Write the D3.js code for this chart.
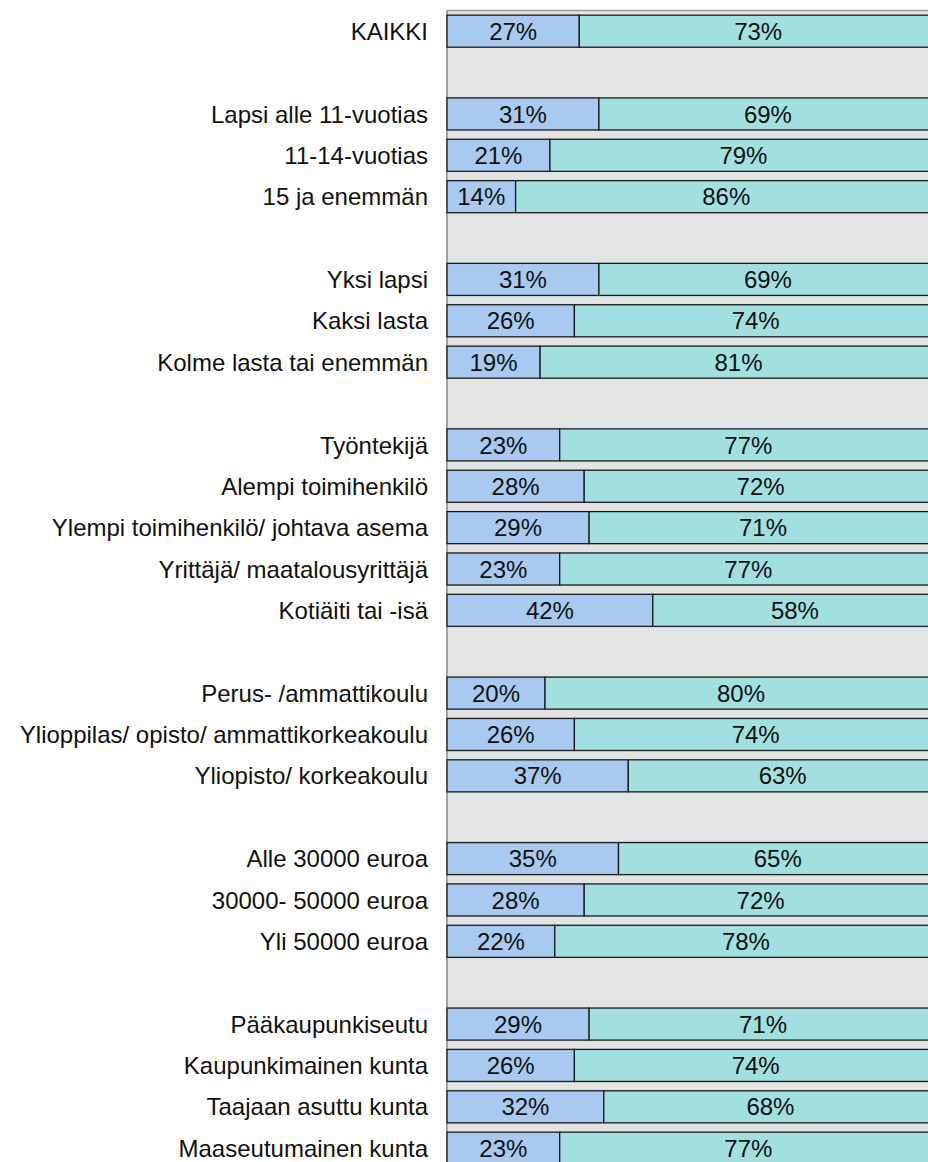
<!DOCTYPE html>
<html>
<head>
<meta charset="utf-8">
<script src="https://cdn.jsdelivr.net/npm/d3@7"></script>
<style>
  body { margin: 0; background: #fff; }
  svg { display: block; }
</style>
</head>
<body>
<div id="chart"></div>
<script>
// rows, blank strings are the empty spacer rows
var categories = [
  'KAIKKI', '',
  'Lapsi alle 11-vuotias', '11-14-vuotias', '15 ja enemmän', '',
  'Yksi lapsi', 'Kaksi lasta', 'Kolme lasta tai enemmän', '',
  'Työntekijä', 'Alempi toimihenkilö', 'Ylempi toimihenkilö/ johtava asema',
  'Yrittäjä/ maatalousyrittäjä', 'Kotiäiti tai -isä', '',
  'Perus- /ammattikoulu', 'Ylioppilas/ opisto/ ammattikorkeakoulu', 'Yliopisto/ korkeakoulu', '',
  'Alle 30000 euroa', '30000- 50000 euroa', 'Yli 50000 euroa', '',
  'Pääkaupunkiseutu', 'Kaupunkimainen kunta', 'Taajaan asuttu kunta', 'Maaseutumainen kunta'
]
var first = [27, null, 31, 21, 14, null, 31, 26, 19, null, 23, 28, 29, 23, 42, null,
  20, 26, 37, null, 35, 28, 22, null, 29, 26, 32, 23]
var second = [73, null, 69, 79, 86, null, 69, 74, 81, null, 77, 72, 71, 77, 58, null,
  80, 74, 63, null, 65, 72, 78, null, 71, 74, 68, 77]

var w = 928
var h = 1162
var plotLeft = 447
var plotTop = 10.5
var step = 41.37
var font = 'Liberation Sans, Arial, sans-serif'

var svg = d3.select('#chart')
  .append('svg')
  .attr('width', w)
  .attr('height', h)

var x = d3.scaleLinear().domain([0, 100]).range([plotLeft, plotLeft + 490])
var y = d3.scaleBand()
  .domain(d3.range(categories.length))
  .range([plotTop, plotTop + step * categories.length])
  .paddingInner(0.225)
  .paddingOuter(0.1125)

// plot background
svg.append('rect')
  .attr('x', plotLeft)
  .attr('y', plotTop)
  .attr('width', w - plotLeft + 20)
  .attr('height', h)
  .attr('fill', '#e3e3e3')

svg.append('line')
  .attr('x1', plotLeft).attr('x2', w)
  .attr('y1', plotTop).attr('y2', plotTop)
  .attr('stroke', '#9a9a9a')
  .attr('stroke-width', 1.5)

svg.append('line')
  .attr('x1', plotLeft).attr('x2', plotLeft)
  .attr('y1', plotTop).attr('y2', h)
  .attr('stroke', '#8a8a8a')
  .attr('stroke-width', 1.5)

var rows = d3.range(categories.length).filter(function (i) { return first[i] != null })

var g = svg.selectAll('g.row')
  .data(rows)
  .enter()
  .append('g')
  .attr('class', 'row')

g.append('rect')
  .attr('x', function (i) { return x(0) })
  .attr('y', function (i) { return y(i) })
  .attr('width', function (i) { return x(first[i]) - x(0) })
  .attr('height', y.bandwidth())
  .attr('fill', '#a8c9f0')
  .attr('stroke', '#1a1a1a')
  .attr('stroke-width', 1.3)

g.append('rect')
  .attr('x', function (i) { return x(first[i]) })
  .attr('y', function (i) { return y(i) })
  .attr('width', function (i) { return x(first[i] + second[i]) - x(first[i]) })
  .attr('height', y.bandwidth())
  .attr('fill', '#a2e0e0')
  .attr('stroke', '#1a1a1a')
  .attr('stroke-width', 1.3)

g.append('text')
  .attr('x', function (i) { return (x(0) + x(first[i])) / 2 })
  .attr('y', function (i) { return y(i) + y.bandwidth() / 2 })
  .attr('dy', '0.36em')
  .attr('text-anchor', 'middle')
  .attr('font-family', font)
  .attr('font-size', 24)
  .attr('fill', '#111')
  .text(function (i) { return first[i] + '%' })

g.append('text')
  .attr('x', function (i) { return (x(first[i]) + x(first[i] + second[i])) / 2 })
  .attr('y', function (i) { return y(i) + y.bandwidth() / 2 })
  .attr('dy', '0.36em')
  .attr('text-anchor', 'middle')
  .attr('font-family', font)
  .attr('font-size', 24)
  .attr('fill', '#111')
  .text(function (i) { return second[i] + '%' })

// category labels
svg.selectAll('text.cat')
  .data(rows)
  .enter()
  .append('text')
  .attr('class', 'cat')
  .attr('x', 428)
  .attr('y', function (i) { return y(i) + y.bandwidth() / 2 })
  .attr('dy', '0.36em')
  .attr('text-anchor', 'end')
  .attr('font-family', font)
  .attr('font-size', 24)
  .attr('fill', '#111')
  .text(function (i) { return categories[i] })
</script>
</body>
</html>
